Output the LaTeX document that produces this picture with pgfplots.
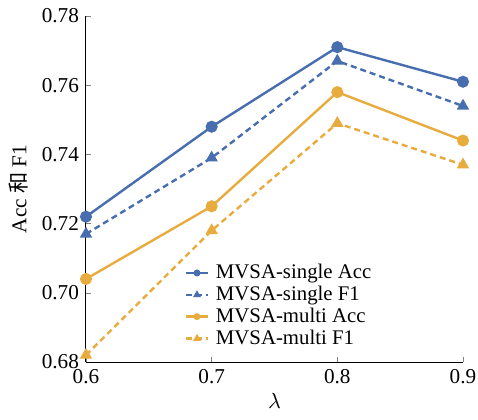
\documentclass[border=0pt]{standalone}
\usepackage{fontspec}
\setmainfont{Liberation Serif}
\newfontfamily\cjk{Noto Sans CJK SC}
\usepackage{pgfplots}
\pgfplotsset{compat=1.18}
\definecolor{sBlue}{RGB}{72,110,175}
\definecolor{mOrange}{RGB}{232,172,62}

\begin{document}
\begin{tikzpicture}
\begin{axis}[
    scale only axis,
    width=188.5pt,
    height=173pt,
    xmin=0.6, xmax=0.9,
    ymin=0.68, ymax=0.78,
    xtick={0.6,0.7,0.8,0.9},
    ytick={0.68,0.70,0.72,0.74,0.76,0.78},
    xticklabel style={/pgf/number format/.cd,fixed,fixed zerofill,precision=1},
    yticklabel style={/pgf/number format/.cd,fixed,fixed zerofill,precision=2},
    /pgf/number format/assume math mode=true,
    tick label style={font=\fontsize{10.6}{12}\selectfont},
    label style={font=\fontsize{10.6}{12}\selectfont},
    axis x line*=bottom,
    axis y line*=left,
    tick align=inside,
    major tick length=2.5pt,
    axis line style={line width=0.5pt},
    xlabel={$\lambda$},
    ylabel={Acc {\cjk 和} F1},
    xlabel style={yshift=2pt},
    ylabel style={yshift=0pt},
    legend cell align=left,
    legend style={at={(0.26,0.29)},anchor=north west,draw=none,fill=none,
        inner sep=0pt,row sep=0pt,
        font=\fontsize{10.4}{12}\selectfont,
        nodes={inner ysep=1.1pt,inner xsep=3.2pt}},
    legend image code/.code={\draw[mark repeat=2,mark phase=2,mark size=1.1pt]
        plot coordinates {(0cm,0cm)(0.2cm,0cm)(0.4cm,0cm)};},
    every axis plot/.append style={line width=1.2pt, mark size=2.4pt},
]
\addplot[color=sBlue,mark=*,mark options={solid}] coordinates {
    (0.6,0.722) (0.7,0.748) (0.8,0.771) (0.9,0.761)
};
\addlegendentry{MVSA-single Acc}
\addplot[color=sBlue,mark=triangle*,mark options={solid},dash pattern=on 3pt off 2pt] coordinates {
    (0.6,0.717) (0.7,0.739) (0.8,0.767) (0.9,0.754)
};
\addlegendentry{MVSA-single F1}
\addplot[color=mOrange,mark=*,mark options={solid}] coordinates {
    (0.6,0.704) (0.7,0.725) (0.8,0.758) (0.9,0.744)
};
\addlegendentry{MVSA-multi Acc}
\addplot[color=mOrange,mark=triangle*,mark options={solid},dash pattern=on 3pt off 2pt] coordinates {
    (0.6,0.682) (0.7,0.718) (0.8,0.749) (0.9,0.737)
};
\addlegendentry{MVSA-multi F1}
\end{axis}
\pgfresetboundingbox
\useasboundingbox (-43pt,-28.5pt) rectangle (196pt,181pt);
\end{tikzpicture}
\end{document}
